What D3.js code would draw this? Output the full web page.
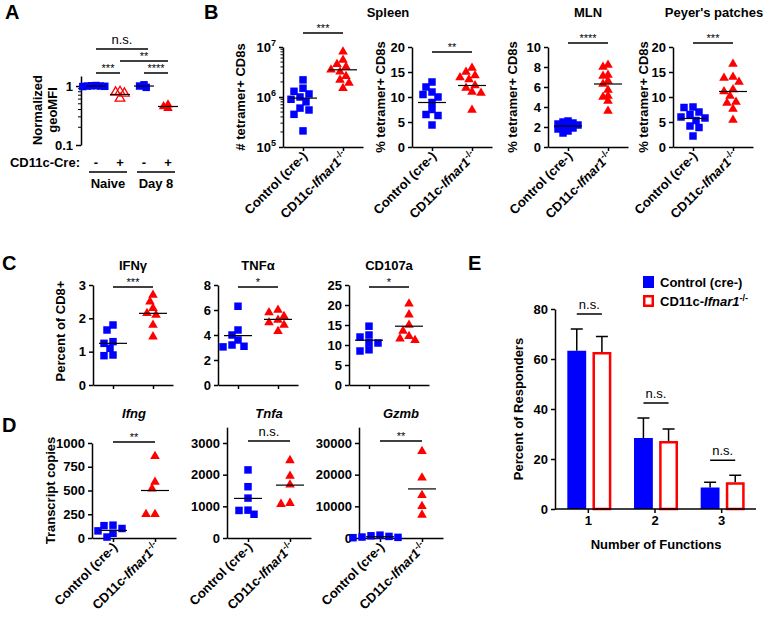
<!DOCTYPE html>
<html><head><meta charset="utf-8">
<script src="https://cdn.jsdelivr.net/npm/d3@7"></script>
<style>
body{margin:0;background:#fff;}
svg{display:block;}
</style></head><body>
<script>
// ---------------- DATA ----------------
const groups = ["Control (cre-)", "CD11c-Ifnar1-/-"];

// Panel A
const aCategories = ["Naive -", "Naive +", "Day 8 -", "Day 8 +"];
const aCreLabels = ["-", "+", "-", "+"];
const aTimepoints = ["Naive", "Day 8"];
const aNaiveCtrl = [1.02, 1.0, 0.99, 1.01, 0.98, 1.0];
const aNaiveKO = [0.8, 0.78, 0.75, 0.62];
const aDay8Ctrl = [1.05, 1.0, 0.95];
const aDay8KO = [0.48, 0.45, 0.42];
const aMeans = [1.0, 0.72, 1.0, 0.45];
const aTicks = [0.1, 1];

// Panel B
const bTitles = ["Spleen", "MLN", "Peyer's patches"];
const bSpleenCountCtrl = [2.2e6, 1.5e6, 1.3e6, 1.15e6, 1.0e6, 9e5, 8e5, 6e5, 5.5e5, 4.5e5, 2.1e5];
const bSpleenCountKO = [8.0e6, 5.5e6, 4.5e6, 4.0e6, 3.5e6, 3.2e6, 2.6e6, 2.2e6, 1.9e6, 1.5e6];
const bSpleenCountCenters = [9.5e5, 3.5e6];
const bSpleenPctCtrl = [13, 12, 11, 10.5, 10, 8.9, 7.5, 6.5, 6.3, 4.4];
const bSpleenPctKO = [15.8, 15.0, 14.3, 13.9, 13.5, 12.3, 11.8, 11.0, 10.8, 7.4];
const bSpleenPctCenters = [8.9, 12.3];
const bMlnCtrl = [2.6, 2.5, 2.4, 2.3, 2.2, 2.1, 2.0, 1.9, 1.8, 1.6, 1.4];
const bMlnKO = [8.2, 8.0, 7.2, 7.1, 6.6, 6.3, 5.7, 5.1, 5.0, 4.6, 3.6];
const bMlnCenters = [2.1, 6.3];
const bPPCtrl = [8.0, 7.9, 7.0, 6.5, 6.0, 5.8, 5.3, 4.2, 3.9, 2.2];
const bPPKO = [16.6, 14.0, 13.8, 13.0, 11.5, 11.1, 10.2, 9.0, 8.8, 7.6, 5.4];
const bPPCenters = [5.7, 11.1];

// Panel C
const cTitles = ["IFNγ", "TNFα", "CD107a"];
const cIfngCtrl = [1.8, 1.65, 1.3, 1.25, 1.1, 0.9, 0.88];
const cIfngKO = [2.7, 2.5, 2.3, 2.15, 2.1, 1.8, 1.45];
const cIfngCenters = [1.25, 2.15];
const cTnfCtrl = [6.3, 4.4, 4.0, 3.6, 3.2, 3.1, 3.05];
const cTnfKO = [6.0, 5.8, 5.5, 5.2, 5.0, 4.8, 4.3];
const cTnfCenters = [3.95, 5.25];
const cCd107Ctrl = [14.7, 12.5, 12.0, 10.6, 10.5, 8.8, 8.5];
const cCd107KO = [20.3, 17.6, 15, 13.5, 12.2, 11.6, 11.2];
const cCd107Centers = [11.2, 14.7];

// Panel D
const dTitles = ["Ifng", "Tnfa", "Gzmb"];
const dIfngCtrl = [135, 130, 100, 75, 50, 10];
const dIfngKO = [860, 590, 520, 250, 250];
const dIfngCenters = [80, 500];
const dTnfaCtrl = [2150, 1620, 1260, 880, 870, 750];
const dTnfaKO = [2450, 1960, 1680, 1100, 1070];
const dTnfaCenters = [1250, 1670];
const dGzmbCtrl = [900, 700, 500, 300, 200, 100];
const dGzmbKO = [27400, 19000, 13500, 10000, 7300];
const dGzmbCenters = [400, 15500];

// Panel E
const eFunctions = ["1", "2", "3"];
const eCtrlMean = [63.3, 28.4, 8.6];
const eCtrlSem = [8.7, 8.0, 2.1];
const eKOMean = [62.8, 27.2, 10.7];
const eKOSem = [6.2, 4.8, 2.8];

// ---------------- DRAWING ----------------
const FONT = '"Liberation Sans", Arial, Helvetica, sans-serif';
const BLUE = "#0000ff", RED = "#ff0000";
const svg = d3.select("body").append("svg").attr("width", 769).attr("height", 622)
  .style("font-family", FONT);

const sqPath = d3.symbol(d3.symbolSquare, 56)();
const triPath = d3.symbol(d3.symbolTriangle, 40)();

function styleAxis(g, fs) {
  g.selectAll("path,line").attr("stroke", "#000").attr("stroke-width", 1.5);
  g.selectAll("text").attr("font-size", fs).attr("font-weight", "bold").attr("fill", "#000")
    .attr("font-family", FONT);
}

function beeswarm(vals, yScale, minDist, step) {
  const order = vals.map((v, i) => i).sort((a, b) => vals[b] - vals[a]);
  const placed = [], out = new Array(vals.length);
  order.forEach(i => {
    const py = yScale(vals[i]);
    for (let k = 0; k < 60; k++) {
      const dx = k === 0 ? 0 : (k % 2 === 1 ? -1 : 1) * Math.ceil(k / 2) * step;
      if (placed.every(p => Math.hypot(p.dx - dx, p.py - py) >= minDist)) {
        placed.push({dx, py}); out[i] = {dx, py}; break;
      }
    }
  });
  return out;
}

function text(x, y, str, opts = {}) {
  const t = svg.append("text").attr("x", x).attr("y", y).text(str)
    .attr("font-size", opts.size || 13).attr("font-weight", opts.weight || "bold")
    .attr("text-anchor", opts.anchor || "middle").attr("fill", "#000");
  if (opts.italic) t.attr("font-style", "italic");
  return t;
}

function yTitle(x, yc, str, size) {
  return svg.append("text").attr("transform", `translate(${x},${yc}) rotate(-90)`)
    .attr("text-anchor", "middle").attr("font-size", size || 13).attr("font-weight", "bold")
    .attr("dy", "0.35em").text(str);
}

function groupLabel(sel, i, size) {
  if (i === 0) { sel.text("Control (cre-)"); return; }
  sel.append("tspan").text("CD11c-");
  sel.append("tspan").attr("font-style", "italic").text("Ifnar1");
  sel.append("tspan").attr("font-size", size * 0.7).attr("dy", -size * 0.4).text("-/-");
}

function sigBar(x1, x2, y, label) {
  svg.append("line").attr("x1", x1).attr("x2", x2).attr("y1", y).attr("y2", y)
    .attr("stroke", "#000").attr("stroke-width", 1.5);
  if (label === "n.s.") text((x1 + x2) / 2, y - 5, label, {size: 13, weight: "normal"});
  else text((x1 + x2) / 2, y - 1.5, label, {size: 11, weight: "normal"});
}

function drawScatter(cfg) {
  const x = d3.scalePoint().domain(groups).range([cfg.x0, cfg.x0 + cfg.len]).padding(0.5);
  const y = cfg.scale;
  const gy = svg.append("g").attr("transform", `translate(${cfg.x0},0)`)
    .call(d3.axisLeft(y).tickValues(cfg.ticks).tickFormat(cfg.fmt || (d => d)).tickSize(4).tickSizeOuter(0));
  styleAxis(gy, cfg.fs || 13);
  if (cfg.log) {
    gy.selectAll(".tick text").each(function (d) {
      const t = d3.select(this); t.text("10");
      t.append("tspan").attr("dy", -6).attr("font-size", 9).text(Math.round(Math.log10(d)));
    });
    const minor = [];
    const [lo, hi] = y.domain();
    for (let e = Math.log10(lo); e < Math.log10(hi); e++)
      for (let m = 2; m <= 9; m++) minor.push(m * Math.pow(10, e));
    gy.selectAll(".mn").data(minor).enter().append("line")
      .attr("x1", 0).attr("x2", -2.5).attr("y1", d => y(d)).attr("y2", d => y(d))
      .attr("stroke", "#000").attr("stroke-width", 1);
  }
  const y0 = y.range()[0];
  const gx = svg.append("g").attr("transform", `translate(0,${y0})`)
    .call(d3.axisBottom(x).tickSize(4).tickSizeOuter(0).tickFormat(""));
  styleAxis(gx, 13);
  cfg.series.forEach((vals, gi) => {
    const pos = beeswarm(vals, y, cfg.minDist || 7, cfg.step || 3);
    svg.append("g").selectAll("path").data(vals).enter().append("path")
      .attr("transform", (d, i) => `translate(${x(groups[gi]) + pos[i].dx},${pos[i].py})`)
      .attr("d", gi === 0 ? sqPath : triPath).attr("fill", gi === 0 ? BLUE : RED);
  });
  cfg.centers.forEach((c, gi) => {
    svg.append("line").attr("x1", x(groups[gi]) - 14).attr("x2", x(groups[gi]) + 14)
      .attr("y1", y(c)).attr("y2", y(c)).attr("stroke", "#000").attr("stroke-width", 1.2);
  });
  if (cfg.sig) sigBar(x(groups[0]), x(groups[1]), cfg.sig.y, cfg.sig.text);
  if (cfg.title) text(cfg.x0 + cfg.len / 2, cfg.title.y, cfg.title.text, {size: 13, italic: cfg.title.italic});
  if (cfg.yTitle) yTitle(cfg.yTitle.x, (y.range()[0] + y.range()[1]) / 2 + (cfg.yTitle.dy || 0), cfg.yTitle.text);
  if (cfg.xLabels) {
    groups.forEach((gname, gi) => {
      const t = svg.append("text")
        .attr("transform", `translate(${x(gname) + 5},${y0 + 10}) rotate(-45)`)
        .attr("text-anchor", "end").attr("font-size", 13).attr("font-weight", "bold");
      groupLabel(t, gi, 13);
    });
  }
}

// Panel letters
[["A", 5, 19], ["B", 204, 19], ["C", 2, 270], ["D", 2, 432], ["E", 468, 270]].forEach(([l, x, y]) =>
  text(x, y, l, {size: 20, anchor: "start"}));

// ---------- Panel A ----------
{
  const y = d3.scaleLog().domain([0.1, 1.48]).range([145, 76]);
  const x = d3.scalePoint().domain(aCategories).range([84, 180]).padding(0.5);
  const gy = svg.append("g").attr("transform", "translate(81,0)")
    .call(d3.axisLeft(y).tickValues(aTicks).tickFormat(d => d === 1 ? "1" : "0.1").tickSize(5).tickSizeOuter(0));
  styleAxis(gy, 13);
  const minor = [0.2, 0.3, 0.4, 0.5, 0.6, 0.7, 0.8, 0.9];
  gy.selectAll(".mn").data(minor).enter().append("line")
    .attr("x1", 0).attr("x2", -3).attr("y1", d => y(d)).attr("y2", d => y(d))
    .attr("stroke", "#000").attr("stroke-width", 1);
  const series = [aNaiveCtrl, aNaiveKO, aDay8Ctrl, aDay8KO];
  series.forEach((vals, ci) => {
    const pos = beeswarm(vals, y, 3.2, 2.2);
    const g = svg.append("g");
    g.selectAll("path").data(vals).enter().append("path")
      .attr("transform", (d, i) => `translate(${x(aCategories[ci]) + pos[i].dx},${pos[i].py})`)
      .attr("d", ci % 2 === 0 ? sqPath : triPath)
      .attr("fill", ci % 2 === 0 ? BLUE : (ci === 1 ? "none" : RED))
      .attr("stroke", ci === 1 ? RED : "none").attr("stroke-width", 1.3);
  });
  aMeans.forEach((m, ci) => {
    svg.append("line").attr("x1", x(aCategories[ci]) - 10).attr("x2", x(aCategories[ci]) + 10)
      .attr("y1", y(m)).attr("y2", y(m)).attr("stroke", "#000").attr("stroke-width", 1.2);
  });
  sigBar(x(aCategories[0]), x(aCategories[2]) + 4, 49, "n.s.");
  sigBar(x(aCategories[1]), x(aCategories[3]), 61, "**");
  sigBar(x(aCategories[0]), x(aCategories[1]), 73, "***");
  sigBar(x(aCategories[2]), x(aCategories[3]), 73, "****");
  yTitle(37, 110, "Normalized");
  yTitle(52, 110, "geoMFI");
  text(80, 167, "CD11c-Cre:", {anchor: "end"});
  aCreLabels.forEach((l, i) => text(x(aCategories[i]), 167, l));
  aTimepoints.forEach((t, i) => {
    const a = x(aCategories[2 * i]), b = x(aCategories[2 * i + 1]);
    svg.append("line").attr("x1", a - 7).attr("x2", b + 7).attr("y1", 172).attr("y2", 172)
      .attr("stroke", "#000").attr("stroke-width", 1.5);
    text((a + b) / 2, 188, t);
  });
}

// ---------- Panel B ----------
drawScatter({x0: 283, len: 80, scale: d3.scaleLog().domain([1e5, 1e7]).range([147, 47]), log: true,
  ticks: [1e5, 1e6, 1e7], series: [bSpleenCountCtrl, bSpleenCountKO], centers: bSpleenCountCenters,
  sig: {y: 33, text: "***"}, yTitle: {x: 240, text: "# tetramer+ CD8s"}, xLabels: true, minDist: 7, step: 3});
drawScatter({x0: 412, len: 80, scale: d3.scaleLinear().domain([0, 20]).range([147, 47]),
  ticks: [0, 5, 10, 15, 20], series: [bSpleenPctCtrl, bSpleenPctKO], centers: bSpleenPctCenters,
  sig: {y: 52, text: "**"}, yTitle: {x: 380, text: "% tetramer+ CD8s"}, xLabels: true});
drawScatter({x0: 548, len: 80, scale: d3.scaleLinear().domain([0, 10]).range([147, 47]),
  ticks: [0, 2, 4, 6, 8, 10], series: [bMlnCtrl, bMlnKO], centers: bMlnCenters,
  sig: {y: 43, text: "****"}, yTitle: {x: 512, text: "% tetramer+ CD8s"}, xLabels: true, minDist: 4.5, step: 2.5});
drawScatter({x0: 673, len: 80, scale: d3.scaleLinear().domain([0, 20]).range([147, 47]),
  ticks: [0, 5, 10, 15, 20], series: [bPPCtrl, bPPKO], centers: bPPCenters,
  sig: {y: 43, text: "***"}, yTitle: {x: 643, text: "% tetramer+ CD8s"}, xLabels: true});
text(388, 17, bTitles[0]);
text(588, 17, bTitles[1]);
text(714, 17, bTitles[2]);

// ---------- Panel C ----------
drawScatter({x0: 93, len: 80, scale: d3.scaleLinear().domain([0, 3]).range([385, 285]),
  ticks: [0, 1, 2, 3], series: [cIfngCtrl, cIfngKO], centers: cIfngCenters,
  sig: {y: 287, text: "***"}, title: {y: 270, text: cTitles[0]}, yTitle: {x: 60, text: "Percent of CD8+", dy: -4}});
drawScatter({x0: 218, len: 80, scale: d3.scaleLinear().domain([0, 8]).range([385, 285]),
  ticks: [0, 2, 4, 6, 8], series: [cTnfCtrl, cTnfKO], centers: cTnfCenters,
  sig: {y: 287, text: "*"}, title: {y: 270, text: cTitles[1]}});
drawScatter({x0: 349, len: 80, scale: d3.scaleLinear().domain([0, 25]).range([385, 285]),
  ticks: [0, 5, 10, 15, 20, 25], series: [cCd107Ctrl, cCd107KO], centers: cCd107Centers,
  sig: {y: 287, text: "*"}, title: {y: 270, text: cTitles[2]}});

// ---------- Panel D ----------
drawScatter({x0: 92, len: 84, scale: d3.scaleLinear().domain([0, 1000]).range([538, 443]),
  ticks: [0, 250, 500, 750, 1000], series: [dIfngCtrl, dIfngKO], centers: dIfngCenters,
  sig: {y: 442, text: "**"}, title: {y: 418, text: dTitles[0], italic: true},
  yTitle: {x: 50, text: "Transcript copies"}, xLabels: true});
drawScatter({x0: 227, len: 84, scale: d3.scaleLinear().domain([0, 3500]).range([538, 538 - 95 * 3500 / 3000]),
  ticks: [0, 1000, 2000, 3000], series: [dTnfaCtrl, dTnfaKO], centers: dTnfaCenters,
  sig: {y: 441, text: "n.s."}, title: {y: 418, text: dTitles[1], italic: true}, xLabels: true});
drawScatter({x0: 359, len: 84, scale: d3.scaleLinear().domain([0, 35000]).range([538, 538 - 95 * 35000 / 30000]),
  ticks: [0, 10000, 20000, 30000], series: [dGzmbCtrl, dGzmbKO], centers: dGzmbCenters,
  sig: {y: 441, text: "**"}, title: {y: 418, text: dTitles[2], italic: true}, xLabels: true});

// ---------- Panel E ----------
{
  const ex = d3.scaleBand().domain(eFunctions).range([555, 755]);
  const ex1 = d3.scaleBand().domain(["ctrl", "ko"]).range([-21, 23]).paddingInner(0.25);
  const ey = d3.scaleLinear().domain([0, 80]).range([509, 309]);
  const half = ex.bandwidth() / 2;
  const gy = svg.append("g").attr("transform", "translate(555,0)")
    .call(d3.axisLeft(ey).tickValues([0, 20, 40, 60, 80]).tickSize(4).tickSizeOuter(0));
  styleAxis(gy, 13);
  const bw = ex1.bandwidth();
  eFunctions.forEach((f, i) => {
    const c = ex(f) + half;
    const xc = c + ex1("ctrl"), xk = c + ex1("ko");
    svg.append("rect").attr("x", xc).attr("width", bw).attr("y", ey(eCtrlMean[i]))
      .attr("height", ey(0) - ey(eCtrlMean[i])).attr("fill", BLUE);
    svg.append("rect").attr("x", xk + 1.25).attr("width", bw - 2.5).attr("y", ey(eKOMean[i]) + 1.25)
      .attr("height", ey(0) - ey(eKOMean[i]) - 1.25).attr("fill", "#fff").attr("stroke", RED).attr("stroke-width", 2.5);
    [[xc, eCtrlMean[i], eCtrlSem[i]], [xk, eKOMean[i], eKOSem[i]]].forEach(([bx, m, s]) => {
      const mx = bx + bw / 2;
      svg.append("line").attr("x1", mx).attr("x2", mx).attr("y1", ey(m)).attr("y2", ey(m + s))
        .attr("stroke", "#000").attr("stroke-width", 1.5);
      svg.append("line").attr("x1", mx - 6).attr("x2", mx + 6).attr("y1", ey(m + s)).attr("y2", ey(m + s))
        .attr("stroke", "#000").attr("stroke-width", 1.5);
    });
    const top = Math.max(eCtrlMean[i] + eCtrlSem[i], eKOMean[i] + eKOSem[i]);
    sigBar(xc + bw / 2, xk + bw / 2, ey(top) - 15, "n.s.");
  });
  const gx = svg.append("g").attr("transform", "translate(0,509)")
    .call(d3.axisBottom(ex).tickSize(4).tickSizeOuter(0));
  styleAxis(gx, 13);
  gx.select(".domain").attr("d", "M555,0H756");
  text(656, 549, "Number of Functions");
  yTitle(518, 409, "Percent of Responders");
  // legend
  svg.append("rect").attr("x", 643).attr("y", 276).attr("width", 11).attr("height", 12).attr("fill", BLUE);
  svg.append("rect").attr("x", 644.25).attr("y", 296.25).attr("width", 8.5).attr("height", 9.5)
    .attr("fill", "#fff").attr("stroke", RED).attr("stroke-width", 2.5);
  text(660, 287, groups[0], {anchor: "start"});
  const lt = svg.append("text").attr("x", 660).attr("y", 306).attr("font-size", 13).attr("font-weight", "bold");
  groupLabel(lt, 1, 13);
}
</script>
</body></html>
